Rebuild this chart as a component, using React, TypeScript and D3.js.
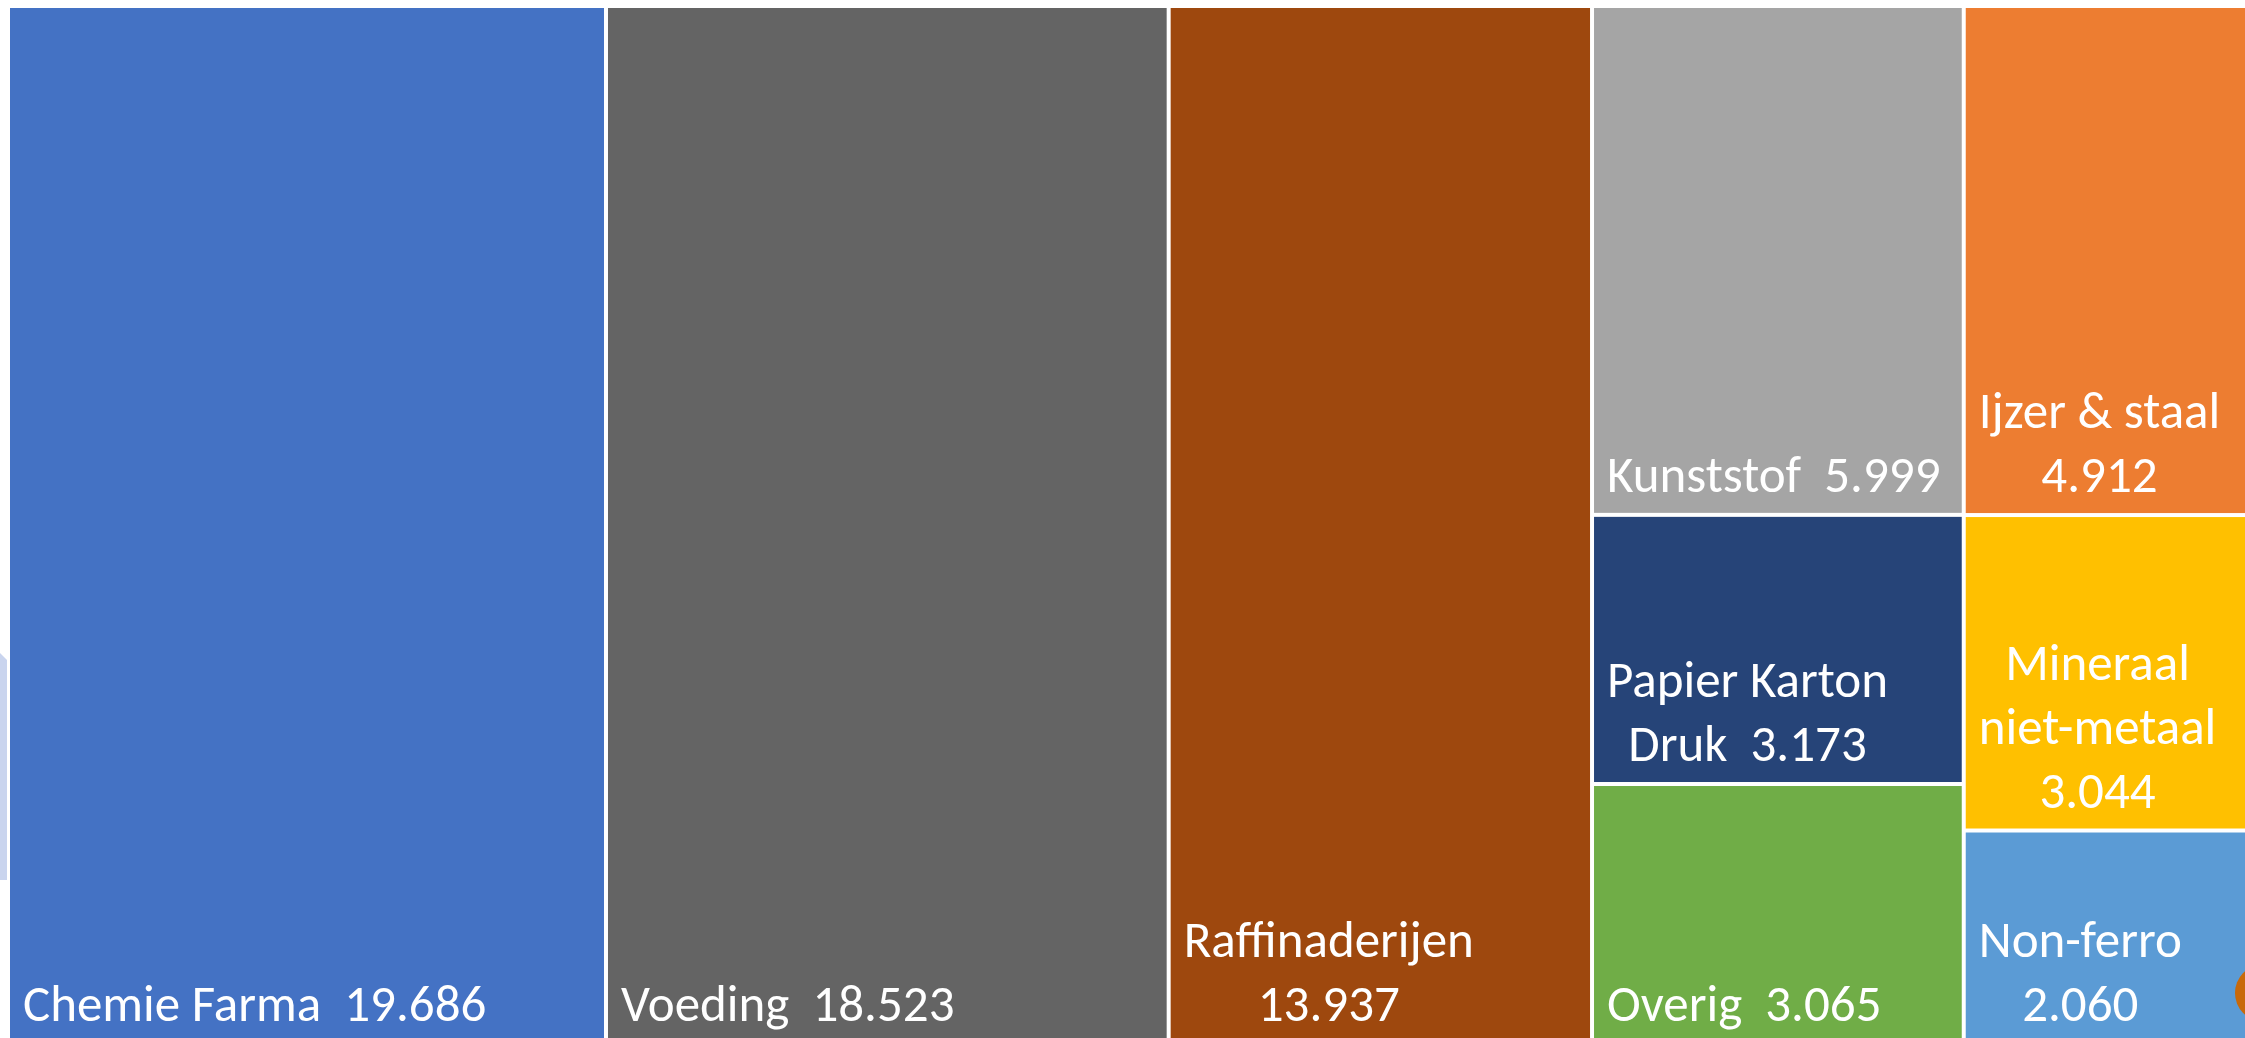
import React, { Component } from "react";
import * as d3 from "d3";

// sectors, values (in Dutch notation, 19.686 = 19686)
const names = [
    "Chemie Farma",
    "Voeding",
    "Raffinaderijen",
    "Kunststof",
    "Papier Karton Druk",
    "Overig",
    "Ijzer & staal",
    "Mineraal niet-metaal",
    "Non-ferro"
];
const values = [19686, 18523, 13937, 5999, 3173, 3065, 4912, 3044, 2060];
// which column of the treemap each sector sits in
const columns = [0, 1, 2, 3, 3, 3, 4, 4, 4];
const colors = [
    "#4472C4", "#646464", "#9E480E", "#A5A5A5", "#264478",
    "#70AD47", "#ED7D31", "#FFC000", "#5B9BD5"
];

const nl = d3.formatLocale({ decimal: ",", thousands: ".", grouping: [3], currency: ["€ ", ""] });
const fmt = nl.format(",d");

const FONT = "Carlito, Calibri, Lato, sans-serif";

type Leaf = { name: string; value: number; color: string };
type Col = { name: string; children: Leaf[] };

class Treemap extends Component {
    svg: SVGSVGElement | null = null;

    componentDidMount() {
        if (document.fonts && document.fonts.ready) {
            document.fonts.ready.then(() => this.graphCode());
        } else {
            this.graphCode();
        }
    }

    graphCode() {
        const svg = d3.select(this.svg);
        svg.selectAll("*").remove();

        const left = 10, top = 8;
        const w = 2256, h = 1034;
        const gap = 4;

        // left edge sliver from the slide behind
        svg.append("path")
            .attr("d", "M0,653 L7,660 L7,880 L0,880 Z")
            .attr("fill", "#C9D4EE");

        const colIds = Array.from(new Set(columns));
        const data: { children: Col[] } = {
            children: colIds.map(c => ({
                name: "col" + c,
                children: names
                    .map((n, i) => ({ name: n, value: values[i], color: colors[i], col: columns[i] }))
                    .filter(d => d.col === c)
            }))
        };

        const root = d3.hierarchy<any>(data).sum((d: any) => d.children ? 0 : d.value);

        d3.treemap<any>()
            .tile(d3.treemapSliceDice)
            .size([w, h])
            .paddingInner(gap)(root);

        const g = svg.append("g").attr("transform", "translate(" + left + "," + top + ")");

        const leaves = root.leaves() as any[];

        g.selectAll("rect.tile")
            .data(leaves)
            .enter()
            .append("rect")
            .attr("class", "tile")
            .attr("x", d => d.x0)
            .attr("y", d => d.y0)
            .attr("width", d => d.x1 - d.x0)
            .attr("height", d => d.y1 - d.y0)
            .attr("fill", d => d.data.color);

        // labels: bottom-left block, lines centered within the block
        const fontSize = 51, pad = 13, lineH = 64, bottomPad = 21;
        const measure = svg.append("text")
            .attr("font-family", FONT)
            .attr("font-size", fontSize)
            .style("white-space", "pre")
            .attr("opacity", 0);
        const textW = (s: string) => {
            measure.text(s);
            return (measure.node() as SVGTextElement).getComputedTextLength();
        };

        leaves.forEach(leaf => {
            const maxW = leaf.x1 - leaf.x0 - 2 * pad;
            const tokens = leaf.data.name.split(" ").map((t: string) => ({ t, sep: " " }));
            tokens.push({ t: fmt(leaf.data.value), sep: "  " });
            const lines: string[] = [];
            let cur = "";
            tokens.forEach((tk: { t: string; sep: string }) => {
                const cand = cur ? cur + tk.sep + tk.t : tk.t;
                if (!cur || textW(cand) <= maxW) cur = cand;
                else { lines.push(cur); cur = tk.t; }
            });
            lines.push(cur);
            const blockW = d3.max(lines, l => textW(l)) || 0;
            const cx = leaf.x0 + pad + blockW / 2;
            lines.forEach((l, i) => {
                g.append("text")
                    .attr("x", cx)
                    .attr("y", leaf.y1 - bottomPad - (lines.length - 1 - i) * lineH)
                    .attr("text-anchor", "middle")
                    .attr("font-family", FONT)
                    .attr("font-size", fontSize)
                    .attr("fill", "#FFFFFF")
                    .style("white-space", "pre")
                    .text(l);
            });
        });
        measure.remove();

        // orange blob peeking in at the right edge
        svg.append("ellipse")
            .attr("cx", 2262)
            .attr("cy", 993)
            .attr("rx", 27)
            .attr("ry", 28)
            .attr("fill", "#C8690A");
    }

    render() {
        return (
            <svg
                ref={node => { this.svg = node; }}
                width={2245}
                height={1038}
                style={{ position: "absolute", left: 0, top: 0, display: "block", background: "#FFFFFF" }}
            />
        );
    }
}

export default function App() {
    return <Treemap />;
}
